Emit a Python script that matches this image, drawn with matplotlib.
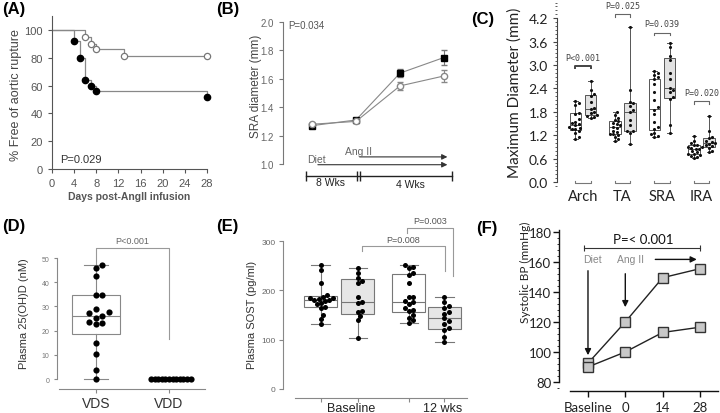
import numpy as np
import matplotlib
matplotlib.use("Agg")
import matplotlib.pyplot as plt
from matplotlib.ticker import MultipleLocator, FormatStrFormatter

plt.rcParams['font.family'] = ['Liberation Sans', 'DejaVu Sans']

# (A) Kaplan-Meier, % free of aortic rupture
km_days_open = [0, 6, 7, 8, 13, 28]
km_free_open = [100, 95, 90, 86, 81, 81]
km_days_fill = [0, 4, 5, 6, 7, 8, 28]
km_free_fill = [100, 92, 80, 64, 60, 56, 52]

# (B) SRA diameter over time
b_x = [0, 1, 2, 3]
sra_fill = [1.27, 1.31, 1.64, 1.75]
sra_fill_err = [0.01, 0.015, 0.03, 0.05]
sra_open = [1.28, 1.30, 1.55, 1.62]
sra_open_err = [0.01, 0.01, 0.03, 0.045]

# (C) maximum diameter by region
c_groups = ['Arch', 'TA', 'SRA', 'IRA']
c_pvals = ['P<0.001', 'P=0.025', 'P=0.039', 'P=0.020']
c_white = [
    [1.10, 1.15, 1.25, 1.30, 1.35, 1.36, 1.38, 1.40, 1.45, 1.50, 1.52, 1.55, 1.62, 1.75, 1.78, 1.98, 2.02, 2.08],
    [1.06, 1.10, 1.15, 1.20, 1.23, 1.24, 1.28, 1.32, 1.38, 1.42, 1.45, 1.48, 1.52, 1.56, 1.60, 1.65, 1.72, 1.80],
    [1.15, 1.18, 1.22, 1.25, 1.35, 1.40, 1.55, 1.75, 1.85, 1.92, 2.10, 2.30, 2.50, 2.63, 2.70, 2.75, 2.80, 2.85],
    [0.63, 0.65, 0.68, 0.70, 0.72, 0.73, 0.76, 0.80, 0.84, 0.86, 0.88, 0.89, 0.90, 0.94, 0.96, 1.00, 1.05, 1.17],
]
c_gray = [
    [1.65, 1.68, 1.70, 1.72, 1.76, 1.80, 1.86, 1.90, 2.05, 2.20, 2.26, 2.35, 2.60],
    [0.98, 1.25, 1.30, 1.32, 1.45, 1.60, 1.80, 1.85, 1.95, 2.02, 2.05, 2.35, 3.98],
    [1.26, 1.45, 2.12, 2.18, 2.30, 2.35, 2.40, 2.65, 2.80, 3.12, 3.22, 3.45, 3.56],
    [0.76, 0.80, 0.88, 0.93, 0.95, 0.98, 1.00, 1.02, 1.05, 1.12, 1.15, 1.32, 1.70],
]
c_bracket_y = [2.98, 4.30, 3.83, 2.08]

# (D) plasma 25(OH)D
d_labels = ['VDS', 'VDD']
d_vds = [0, 3.9, 10.4, 15.0, 22.6, 23.0, 23.7, 25.3, 26.0, 27.1, 27.8, 28.8, 34.8, 34.8, 42.4, 46, 47]
d_vdd = [0] * 12

# (E) plasma SOST
e_groups = ['Baseline', '12 wks']
e_vals = [
    [132, 142, 150, 165, 167, 172, 175, 178, 180, 181, 183, 184, 185, 187, 190, 216, 242, 252],
    [103, 140, 148, 156, 158, 175, 177, 186, 216, 220, 226, 236, 246],
    [133, 140, 145, 150, 158, 160, 165, 172, 176, 178, 186, 186, 216, 232, 236, 246, 248, 252],
    [95, 105, 120, 124, 132, 138, 143, 153, 156, 164, 168, 176, 186],
]

# (F) systolic BP
f_labels = ['Baseline', '0', '14', '28']
f_angii = [92.5, 120, 149.5, 155.5]
f_ctrl = [90, 100, 113, 116.5]

W, H = 720, 414
fig = plt.figure(figsize=(W / 100, H / 100), dpi=100)


def axes_px(l, t, r, b):
    return fig.add_axes([l / W, 1 - b / H, (r - l) / W, (b - t) / H])


def text_px(x, y, s, **kw):
    fig.text(x / W, 1 - y / H, s, **kw)


def box_stats(vals):
    q1, med, q3 = np.percentile(vals, [25, 50, 75], method='weibull')
    return dict(med=med, q1=q1, q3=q3, whislo=min(vals), whishi=max(vals), fliers=[])


def draw_box(ax, vals, pos, width, capw, face, edge, lw=0.8):
    ax.bxp([box_stats(vals)], positions=[pos], widths=width, capwidths=capw,
           patch_artist=True, showfliers=False, manage_ticks=False,
           boxprops=dict(facecolor=face, edgecolor=edge, lw=lw),
           whiskerprops=dict(color=edge, lw=lw), capprops=dict(color=edge, lw=lw),
           medianprops=dict(color=edge, lw=lw))


def swarm(ax, x0, vals, d):
    tr = ax.transData
    base = tr.transform(np.column_stack([np.full(len(vals), x0), vals]))
    placed = []
    out = []
    s = d / 2
    for bx, by in base:
        k = 0
        while True:
            off = ((k + 1) // 2) * s * (1 if k % 2 else -1)
            cx = bx + off
            if all((cx - px) ** 2 + (by - py) ** 2 >= 0.98 * d * d for px, py in placed):
                break
            k += 1
        placed.append((cx, by))
        out.append(cx)
    return tr.inverted().transform(np.column_stack([out, base[:, 1]]))[:, 0]


def clean(ax, color, lw=0.8):
    for s in ['top', 'right']:
        ax.spines[s].set_visible(False)
    for s in ['left', 'bottom']:
        ax.spines[s].set_color(color)
        ax.spines[s].set_linewidth(lw)
    ax.tick_params(color=color, width=lw, length=3)


label_kw = dict(fontsize=12, fontweight='bold', va='top', ha='left')
text_px(2, 2, '(A)', **label_kw)
text_px(216, 2, '(B)', **label_kw)
text_px(471, 12, '(C)', **label_kw)
text_px(2, 219, '(D)', **label_kw)
text_px(216, 219, '(E)', **label_kw)
text_px(476, 221, '(F)', **label_kw)

# ---- A ----
axA = axes_px(52, 17, 207, 170)
axA.set_xlim(0, 28)
axA.set_ylim(0, 110)
clean(axA, '#555')
axA.step(km_days_open, km_free_open, where='post', color='#888', lw=0.9, clip_on=False)
axA.step(km_days_fill, km_free_fill, where='post', color='#888', lw=0.9, clip_on=False)
axA.plot(km_days_open[1:], km_free_open[1:], 'o', mfc='white', mec='#777', ms=4.5, mew=0.9, clip_on=False)
axA.plot(km_days_fill[1:], km_free_fill[1:], 'o', color='black', ms=4.5, clip_on=False)
axA.set_xticks(range(0, 29, 4))
axA.set_yticks(range(0, 101, 20))
axA.tick_params(labelsize=8, labelcolor='#555')
axA.text(1.4, 7.5, 'P=0.029', fontsize=8, color='#333', va='center')
text_px(16, 95, '% Free of aortic rupture', rotation=90, ha='center', va='center', fontsize=9, color='#444')
text_px(129.5, 197, 'Days post-AngII infusion', ha='center', va='center', fontsize=7.5,
        fontweight='bold', color='#555')

# ---- B ----
axB = axes_px(283, 15.9, 456, 193.4)
axB.set_xlim(-0.659, 3.273)
axB.set_ylim(0.8, 2.05)
clean(axB, '#777')
axB.spines['bottom'].set_visible(False)
axB.spines['left'].set_bounds(1.0, 2.0)
axB.set_xticks([])
axB.set_yticks(np.arange(1.0, 2.01, 0.2))
axB.yaxis.set_major_formatter(FormatStrFormatter('%.1f'))
axB.tick_params(labelsize=7, labelcolor='#666')
axB.errorbar(b_x, sra_fill, yerr=sra_fill_err, color='#888', ecolor='#777', lw=0.8, elinewidth=0.8,
             capsize=2, marker='s', ms=4.5, mfc='black', mec='black')
axB.errorbar(b_x, sra_open, yerr=sra_open_err, color='#888', ecolor='#888', lw=0.8, elinewidth=0.8,
             capsize=2, marker='o', ms=4.5, mfc='white', mec='#888')
axB.text(-0.55, 1.98, 'P=0.034', fontsize=7, color='#555', va='center')
arrow_kw = dict(arrowstyle='-|>', color='#333', lw=0.8, mutation_scale=8)
axB.annotate('', xy=(3.14, 1.05), xytext=(1.02, 1.05), arrowprops=arrow_kw)
axB.annotate('', xy=(3.14, 0.995), xytext=(0.07, 0.995), arrowprops=arrow_kw)
axB.text(0.75, 1.09, 'Ang II', fontsize=7.5, color='#666', va='center')
axB.text(-0.11, 1.035, 'Diet', fontsize=7.5, color='#666', va='center')
axB.plot([-0.14, 3.18], [0.915, 0.915], color='#222', lw=1, clip_on=False)
axB.plot([-0.14, 1.03, 1.10, 3.18], [0.915] * 4, '|', color='#222', ms=7, mew=1, clip_on=False)
axB.text(0.41, 0.872, '8 Wks', fontsize=7.5, color='#222', ha='center', va='center')
axB.text(2.23, 0.862, '4 Wks', fontsize=7.5, color='#222', ha='center', va='center')
text_px(256, 86, 'SRA diameter (mm)', rotation=90, ha='center', va='center', fontsize=8.5, color='#444')

# ---- C ----
axC = axes_px(557, 0, 720, 187)
axC.set_xlim(-0.658, 3.468)
axC.set_ylim(-0.1, 4.69)
clean(axC, '#444')
axC.spines['bottom'].set_visible(False)
axC.spines['left'].set_bounds(0, 4.2)
axC.set_yticks(np.arange(0, 4.21, 0.6))
axC.yaxis.set_minor_locator(MultipleLocator(0.1))
axC.yaxis.set_major_formatter(FormatStrFormatter('%.1f'))
axC.tick_params(axis='y', which='minor', length=1.5, color='#444')
axC.set_xticks(range(4))
axC.set_xticklabels(c_groups, fontfamily='Lato', fontsize=10.5, color='#222')
axC.tick_params(axis='x', length=0, pad=2)
for lab in axC.get_yticklabels():
    lab.set_fontfamily('Lato')
    lab.set_fontsize(10)
    lab.set_color('#222')
for g in range(4):
    lw_, rw_ = g - 0.19, g + 0.19
    draw_box(axC, c_white[g], lw_, 0.28, 0.12, 'white', '#555', 0.7)
    draw_box(axC, c_gray[g], rw_, 0.28, 0.12, '#e2e2e2', '#555', 0.7)
    axC.scatter(swarm(axC, lw_, c_white[g], 3.2), c_white[g], s=5, color='#111', zorder=3, lw=0)
    axC.scatter(swarm(axC, rw_, c_gray[g], 3.2), c_gray[g], s=5, color='#111', zorder=3, lw=0)
    axC.plot([lw_, lw_, rw_, rw_], [0.03, -0.03, -0.03, 0.03], color='#777', lw=0.8, clip_on=False)
    by = c_bracket_y[g]
    axC.plot([lw_, lw_, rw_, rw_], [by - 0.07, by, by, by - 0.07], color='#444' if g == 0 else '#666',
             lw=1.4 if g == 0 else 0.8, clip_on=False)
    axC.text(g, by + 0.22, c_pvals[g], fontsize=6, family='DejaVu Sans Mono', color='#444',
             ha='center', va='center', clip_on=False)
text_px(515, 93, 'Maximum Diameter (mm)', rotation=90, ha='center', va='center', fontsize=11,
        family='Lato', color='#222')

# ---- D ----
axD = axes_px(57, 232, 205, 390)
axD.set_xlim(-0.534, 1.493)
axD.set_ylim(-4.13, 61.2)
clean(axD, '#888')
axD.spines['left'].set_bounds(0, 50)
axD.spines['bottom'].set_bounds(-0.507, 1.493)
axD.set_yticks(range(0, 51, 10))
axD.tick_params(axis='y', labelsize=5, labelcolor='#777', length=2)
axD.set_xticks([0, 1])
axD.set_xticklabels(d_labels, fontsize=10, color='#333')
axD.tick_params(axis='x', pad=2)
draw_box(axD, d_vds, 0, 0.67, 0.34, 'white', '#888')
axD.scatter(swarm(axD, 0, d_vds, 6.5), d_vds, s=20, color='black', zorder=3, lw=0)
axD.scatter(swarm(axD, 1, d_vdd, 3.6), d_vdd, s=20, color='black', zorder=3, lw=0)
axD.plot([0, 0, 1, 1], [47, 54, 54, 16.5], color='#999', lw=0.8)
axD.text(0.5, 57.4, 'P<0.001', fontsize=6.5, color='#666', ha='center', va='center')
text_px(24, 314, 'Plasma 25(OH)D (nM)', rotation=90, ha='center', va='center', fontsize=8, color='#333')

# ---- E ----
e_pos = [0, 1, 2.38, 3.34]
axE = axes_px(283, 215, 467, 399)
axE.set_xlim(-1.019, 3.95)
axE.set_ylim(-18.3, 355)
clean(axE, '#888')
axE.spines['left'].set_bounds(0, 300)
axE.spines['bottom'].set_bounds(-0.695, 3.95)
axE.set_yticks(range(0, 301, 100))
axE.tick_params(axis='y', labelsize=6, labelcolor='#666', pad=2.5)
axE.set_xticks(e_pos)
axE.set_xticklabels([])
for i, vals in enumerate(e_vals):
    draw_box(axE, vals, e_pos[i], 0.89, 0.5, 'white' if i % 2 == 0 else '#e6e6e6', '#777')
    axE.scatter(swarm(axE, e_pos[i], vals, 4.2), vals, s=13, color='black', zorder=3, lw=0)
trE = axE.get_xaxis_transform()
axE.text(0.82, -0.054, e_groups[0], transform=trE, fontsize=9, color='#222', ha='center', va='center')
axE.text(3.28, -0.054, e_groups[1], transform=trE, fontsize=9, color='#222', ha='center', va='center')
axE.plot([1.11, 1.11, 3.36, 3.36], [280, 291, 291, 239], color='#999', lw=0.8)
axE.plot([2.32, 2.32, 3.57, 3.57], [317, 327, 327, 229], color='#999', lw=0.8)
axE.text(2.22, 304, 'P=0.008', fontsize=6.5, color='#555', ha='center', va='center')
axE.text(2.95, 341, 'P=0.003', fontsize=6.5, color='#555', ha='center', va='center')
text_px(252, 315, 'Plasma SOST (pg/ml)', rotation=90, ha='center', va='center', fontsize=8, color='#333')

# ---- F ----
axF = axes_px(559, 228, 718, 392)
axF.set_xlim(-0.777, 3.485)
axF.set_ylim(73.98, 183.3)
clean(axF, '#111', 1)
axF.spines['left'].set_bounds(80, 181)
axF.spines['bottom'].set_bounds(-0.48, 3.485)
axF.set_yticks(range(80, 181, 20))
axF.yaxis.set_minor_locator(MultipleLocator(4))
axF.tick_params(axis='y', which='minor', length=1.5, color='#111')
axF.set_xticks(range(4))
axF.set_xticklabels(f_labels)
axF.tick_params(length=4)
axF.tick_params(axis='y', pad=1.5)
for lab in axF.get_xticklabels() + axF.get_yticklabels():
    lab.set_fontfamily('Lato')
    lab.set_fontsize(9.5)
    lab.set_color('#222')
axF.plot(range(4), f_angii, '-s', color='#222', lw=1, ms=7, mfc='#c8c8c8', mec='#333', mew=1)
axF.plot(range(4), f_ctrl, '-s', color='#222', lw=1, ms=7, mfc='#c8c8c8', mec='#333', mew=1)
arrowF = dict(arrowstyle='-|>', color='#111', lw=1, mutation_scale=9)
axF.annotate('', xy=(0, 96), xytext=(0, 156), arrowprops=arrowF)
axF.annotate('', xy=(1, 128), xytext=(1, 154), arrowprops=arrowF)
axF.annotate('', xy=(2.99, 161.7), xytext=(1.73, 161.7), arrowprops=arrowF)
axF.text(0.12, 161.7, 'Diet', fontsize=7.5, color='#888', ha='center', va='center')
axF.text(1.13, 161.7, 'Ang II', fontsize=7.5, color='#888', ha='center', va='center')
axF.plot([-0.1, 3.0], [169.5, 169.5], color='#333', lw=0.8)
axF.plot([-0.1, 3.0], [169.5, 169.5], '|', color='#333', ms=5, mew=0.8)
axF.text(1.47, 175.5, 'P=< 0.001', fontsize=9.5, family='Lato', color='#111', ha='center', va='center')
text_px(525, 272, 'Systolic BP (mmHg)', rotation=90, ha='center', va='center', fontsize=8.5,
        family='Lato', color='#222')

fig.savefig('out.png', dpi=100)
